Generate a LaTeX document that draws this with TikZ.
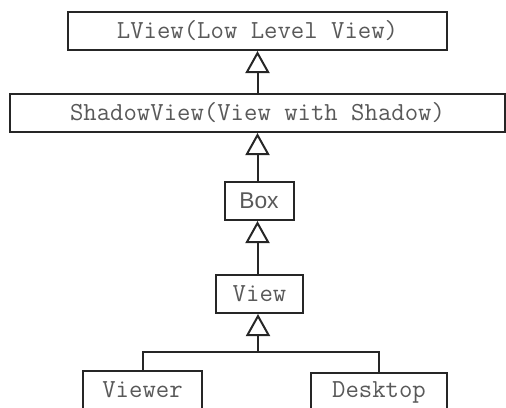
\documentclass[tikz,border=0pt]{standalone}
\usepackage{fontspec}
\setsansfont{Liberation Sans}
\usepackage{tikz}
\usetikzlibrary{arrows.meta}

\begin{document}
\begin{tikzpicture}[x=1pt,y=1pt,
  classbox/.style={rectangle,fill=white,draw=black!85,text=black!65,line width=2pt,minimum height=38pt,inner sep=0pt,font=\fontsize{26}{30}\selectfont\ttfamily},
  inherits/.style={-{Triangle[open,length=22pt,width=24pt,line width=2pt]},draw=black!85,line width=2pt}]
\useasboundingbox (0,0) rectangle (506,-407);
\node[classbox,minimum width=379pt] (lview) at (257.5,-31) {LView(Low Level View)};
\node[classbox,minimum width=495pt] (shadow) at (257.5,-113) {ShadowView(View with Shadow)};
\node[classbox,minimum width=69pt,font=\fontsize{22.8}{26}\selectfont\sffamily] (box) at (259,-201) {Box};
\node[classbox,minimum width=87pt] (view) at (259.5,-294) {View};
\node[classbox,minimum width=119pt] (viewer) at (142.5,-390) {Viewer};
\node[classbox,minimum width=136pt] (desktop) at (379,-392) {Desktop};
\coordinate (join) at (258,-352);
\draw[inherits] (shadow.north) -- (lview.south);
\draw[inherits] (box.north -| shadow.south) -- (shadow.south);
\draw[inherits] (view.north -| shadow.south) -- (box.south -| shadow.south);
\draw[draw=black!85,line width=2pt] (viewer.north) |- (join) -| (desktop.north);
\draw[inherits] (join) -- (join |- view.south);
\end{tikzpicture}
\end{document}
